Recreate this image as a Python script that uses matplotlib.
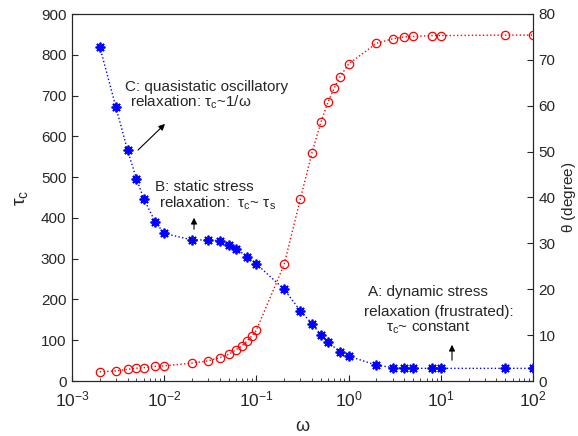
import matplotlib
matplotlib.use("Agg")
import matplotlib.pyplot as plt
from matplotlib.ticker import LogLocator, NullFormatter

plt.rcParams['font.family'] = ['Liberation Sans', 'DejaVu Sans']
plt.rcParams['mathtext.fontset'] = 'custom'
plt.rcParams['mathtext.rm'] = 'Liberation Sans'
plt.rcParams['mathtext.it'] = 'Liberation Sans'
plt.rcParams['mathtext.bf'] = 'Liberation Sans:bold'
plt.rcParams['mathtext.default'] = 'regular'

# tau_c data (left axis)
omega_tau = [0.002, 0.003, 0.004, 0.005, 0.006, 0.008, 0.01, 0.02, 0.03, 0.04,
             0.05, 0.06, 0.08, 0.1, 0.2, 0.3, 0.4, 0.5, 0.6, 0.8, 1, 2, 3, 4, 5,
             8, 10, 50, 100]
tau_c = [820, 671, 566, 496, 447, 390, 362, 346, 346, 344,
         333, 324, 305, 287, 225, 172, 141, 113, 95, 72, 61, 39, 33, 31, 31,
         31, 31, 31, 31]

# theta data (right axis)
omega_theta = [0.002, 0.003, 0.004, 0.005, 0.006, 0.008, 0.01, 0.02, 0.03, 0.04,
               0.05, 0.06, 0.07, 0.08, 0.09, 0.1, 0.2, 0.3, 0.4, 0.5, 0.6, 0.7,
               0.8, 1, 2, 3, 4, 5, 8, 10, 50, 100]
theta = [2.0, 2.2, 2.55, 2.8, 2.9, 3.2, 3.3, 3.9, 4.4, 5.1,
         5.8, 6.8, 7.7, 8.8, 9.9, 11.1, 25.4, 39.7, 49.7, 56.4, 60.9, 63.9,
         66.2, 69.1, 73.6, 74.6, 75.0, 75.1, 75.3, 75.3, 75.4, 75.4]

x_ticks = [1e-3, 1e-2, 1e-1, 1e0, 1e1, 1e2]
x_ticklabels = ['$10^{-3}$', '$10^{-2}$', '$10^{-1}$', '$10^{0}$', '$10^{1}$', '$10^{2}$']
left_ticks = [0, 100, 200, 300, 400, 500, 600, 700, 800, 900]
right_ticks = [0, 10, 20, 30, 40, 50, 60, 70, 80]

fig = plt.figure(figsize=(5.78, 4.36), dpi=100)
ax = fig.add_axes([72/578, 1-381/436, (533-72)/578, (381-14)/436])
ax2 = ax.twinx()

fs = 11
tc = '#262626'
ax.plot(omega_tau, tau_c, linestyle=':', color='blue', marker=(8, 2, 0), markersize=7,
        markeredgewidth=1.3, linewidth=1)
ax2.plot(omega_theta, theta, linestyle=':', color='red', marker='o', markersize=6,
         markerfacecolor='none', markeredgewidth=0.9, linewidth=1)

ax.set_xscale('log')
ax.set_xlim(1e-3, 1e2)
ax.set_ylim(0, 900)
ax2.set_ylim(0, 80)
ax.set_xticks(x_ticks)
ax.set_xticklabels(x_ticklabels, fontsize=fs + 1.5)
ax.xaxis.set_minor_locator(LogLocator(base=10, subs=range(2, 10), numticks=20))
ax.xaxis.set_minor_formatter(NullFormatter())
ax.set_yticks(left_ticks)
ax.set_yticklabels([str(t) for t in left_ticks], fontsize=fs)
ax2.set_yticks(right_ticks)
ax2.set_yticklabels([str(t) for t in right_ticks], fontsize=fs)

for a in (ax, ax2):
    a.tick_params(which='both', direction='in', color=tc, labelcolor=tc)
    a.tick_params(which='major', length=4, width=0.8)
    a.tick_params(which='minor', length=2.5, width=0.6)
    for s in a.spines.values():
        s.set_color(tc)
        s.set_linewidth(0.8)
ax.tick_params(axis='x', pad=6)
ax.tick_params(axis='y', pad=4)
ax2.tick_params(axis='y', pad=4)

ax.set_xlabel(r'$\omega$', fontsize=fs + 2, color=tc, labelpad=6)
ax.set_ylabel(r'$\tau_c$', fontsize=fs + 3, color=tc, labelpad=8)
ax2.set_ylabel(r'$\theta$ (degree)', fontsize=fs, color=tc, labelpad=3)

# annotations (C)
ax.text(125/578, 1-87/436, 'C: quasistatic oscillatory', transform=fig.transFigure,
        fontsize=fs, color=tc, va='center', ha='left')
ax.text(130/578, 1-102/436, r'relaxation: $\tau_c$~1/$\omega$', transform=fig.transFigure,
        fontsize=fs, color=tc, va='center', ha='left')
ax.annotate('', xy=(167/578, 1-122/436), xytext=(136/578, 1-152/436),
            xycoords='figure fraction', textcoords='figure fraction',
            arrowprops=dict(arrowstyle='-|>', color='black', lw=0.8, mutation_scale=9))
# (B)
ax.text(155/578, 1-187/436, 'B: static stress', transform=fig.transFigure,
        fontsize=fs, color=tc, va='center', ha='left')
ax.text(159/578, 1-203/436, r'relaxation:  $\tau_c$~ $\tau_s$', transform=fig.transFigure,
        fontsize=fs, color=tc, va='center', ha='left')
ax.annotate('', xy=(194/578, 1-215/436), xytext=(194/578, 1-232/436),
            xycoords='figure fraction', textcoords='figure fraction',
            arrowprops=dict(arrowstyle='-|>', color='black', lw=0.8, mutation_scale=9))
# (A)
ax.text(368/578, 1-292/436, 'A: dynamic stress', transform=fig.transFigure,
        fontsize=fs, color=tc, va='center', ha='left')
ax.text(364/578, 1-312/436, 'relaxation (frustrated):', transform=fig.transFigure,
        fontsize=fs, color=tc, va='center', ha='left')
ax.text(386/578, 1-328/436, r'$\tau_c$~ constant', transform=fig.transFigure,
        fontsize=fs, color=tc, va='center', ha='left')
ax.annotate('', xy=(452/578, 1-342/436), xytext=(452/578, 1-363/436),
            xycoords='figure fraction', textcoords='figure fraction',
            arrowprops=dict(arrowstyle='-|>', color='black', lw=0.8, mutation_scale=9))

fig.savefig('out.png', dpi=100)
